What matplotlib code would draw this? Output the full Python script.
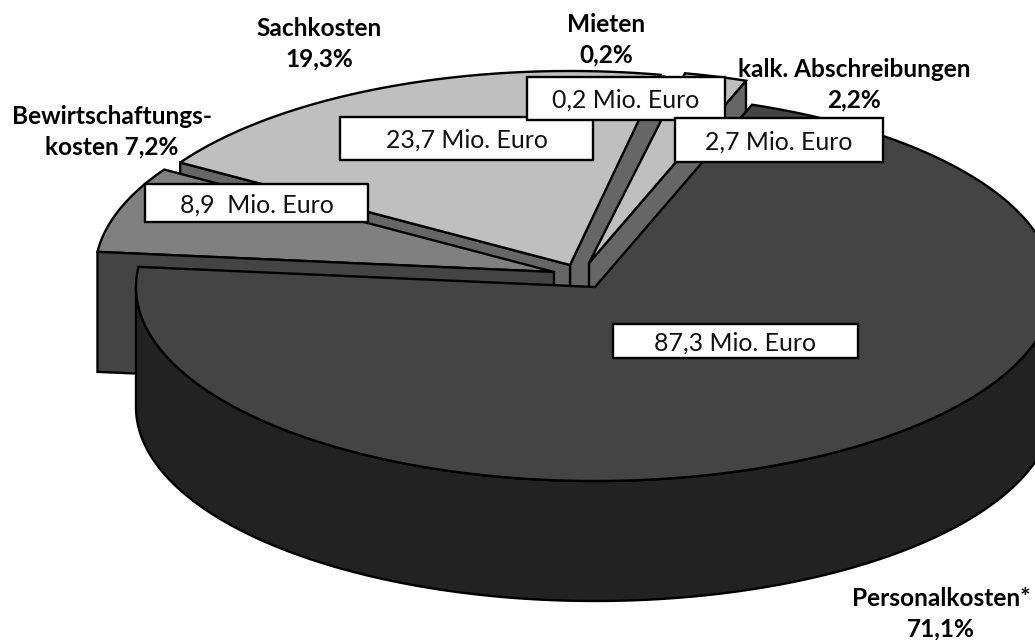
import numpy as np
import matplotlib
matplotlib.use("Agg")
import matplotlib.pyplot as plt
from matplotlib.patches import Polygon, Rectangle

# ---- data ----
categories = ["Personalkosten", "Bewirtschaftungskosten", "Sachkosten", "Mieten", "kalk. Abschreibungen"]
shares = [71.1, 7.2, 19.3, 0.2, 2.2]
amounts = ["87,3 Mio. Euro", "8,9  Mio. Euro", "23,7 Mio. Euro", "0,2 Mio. Euro", "2,7 Mio. Euro"]
share_labels = ["Personalkosten*\n71,1%", "Bewirtschaftungs-\nkosten 7,2%", "Sachkosten\n19,3%",
                "Mieten\n0,2%", "kalk. Abschreibungen\n2,2%"]

# ---- layout / style ----
W, H = 1035, 640
A, B, DEPTH = 459, 194, 120
START_ANGLE = 70.0
APEX = [(595, 287), (554, 272), (570, 265), (570, 265), (589, 263)]
TOP = ["#444444", "#808080", "#bfbfbf", "#666666", "#bfbfbf"]
SIDE = ["#222222", "#444444", "#666666", "#666666", "#666666"]
BOX = [(613, 324, 858, 358), (145, 184, 368, 222), (340, 117, 593, 160), (527, 77, 725, 120), (675, 118, 883, 162)]
BOX_ORDER = [2, 3, 4, 1, 0]
TXT = [(941, 614), (112, 132), (319, 44), (606, 40), (854, 85)]
FONT = "Lato"
LW = 1.7

fig = plt.figure(figsize=(W/100, H/100), dpi=100)
ax = fig.add_axes([0, 0, 1, 1])
ax.set_xlim(0, W); ax.set_ylim(H, 0); ax.axis("off")

sweeps = np.array(shares) / sum(shares) * 360.0
ends = START_ANGLE - np.cumsum(sweeps)
starts = ends + sweeps

def pt(i, t):
    t = np.radians(t)
    return APEX[i][0] + A*np.cos(t), APEX[i][1] - B*np.sin(t)

def arc(i, t0, t1, n=240):
    tt = np.linspace(t0, t1, n)
    x, y = pt(i, tt)
    return np.column_stack([x, y])

def cut_face(i, t, color, z):
    ax_, ay_ = APEX[i]
    x, y = pt(i, t)
    ax.add_patch(Polygon([(ax_, ay_), (x, y), (x, y+DEPTH), (ax_, ay_+DEPTH)], closed=True,
                         fc=color, ec="black", lw=LW, joinstyle="miter", zorder=z))

def top_face(i, z, edge="black"):
    pts = np.vstack([[APEX[i]], arc(i, starts[i], ends[i])])
    ax.add_patch(Polygon(pts, closed=True, fc=TOP[i], ec=edge, lw=LW if edge != "none" else 0,
                         joinstyle="miter", zorder=z))

# back wedges, painted from the far side forward
cut_face(2, ends[2], SIDE[2], 1)
top_face(3, 1.1, edge="none")
cut_face(4, ends[4], SIDE[4], 1.2)
top_face(4, 2)
cut_face(2, starts[2], SIDE[2], 2.1)
top_face(2, 3)
top_face(1, 3.5)
cut_face(1, starts[1], SIDE[1], 4)

# front body of the big wedge
front = arc(0, -180, 0)
side = np.vstack([front, front[::-1] + [0, DEPTH]])
ax.add_patch(Polygon(side, closed=True, fc=SIDE[0], ec="black", lw=LW, zorder=5))
top_face(0, 6)

for k, i in enumerate(BOX_ORDER):
    x0, y0, x1, y1 = BOX[i]
    ax.add_patch(Rectangle((x0, y0), x1-x0, y1-y0, fc="white", ec="black", lw=LW, zorder=8+k))
    ax.text((x0+x1)/2, (y0+y1)/2, amounts[i], ha="center", va="center_baseline", fontsize=17.9,
            family=FONT, color="#111111", zorder=8.5+k)

for i, s in enumerate(share_labels):
    x, y = TXT[i]
    ax.text(x, y, s, ha="center", va="center", multialignment="center", fontsize=17.6, fontweight="bold",
            family=FONT, color="black", linespacing=1.39, zorder=20)

fig.savefig("out.png", dpi=100)
